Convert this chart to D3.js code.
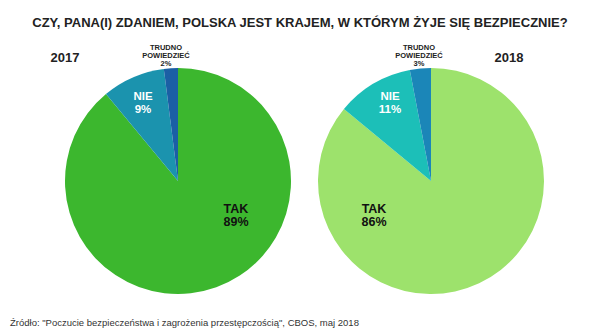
<!DOCTYPE html>
<html>
<head>
<meta charset="utf-8">
<script src="https://cdn.jsdelivr.net/npm/d3@7"></script>
<style>
  body { margin: 0; background: #fff; }
  svg { font-family: "Liberation Sans", Arial, sans-serif; }
</style>
</head>
<body>
<div id="chart"></div>
<script>
var width = 600,
    height = 330;

var categories = ["TAK", "NIE", "TRUDNO POWIEDZIEĆ"];
var years = ["2017", "2018"];
var values2017 = [89, 9, 2];
var values2018 = [86, 11, 3];
var colors2017 = ["#3cb72e", "#1b93ae", "#1b5fa5"];
var colors2018 = ["#9de26c", "#1cbfb8", "#1b86b8"];

var svg = d3.select("#chart").append("svg")
    .attr("width", width)
    .attr("height", height);

svg.append("text")
    .attr("x", 300)
    .attr("y", 27)
    .attr("text-anchor", "middle")
    .attr("font-size", 13)
    .attr("font-weight", "bold")
    .attr("fill", "#222")
    .text("CZY, PANA(I) ZDANIEM, POLSKA JEST KRAJEM, W KTÓRYM ŻYJE SIĘ BEZPIECZNIE?");

var radius = 113;
// label offsets relative to each pie centre
var pies = [
    {year: years[0], values: values2017, colors: colors2017, cx: 178, cy: 181, yearX: 65,
     tak: [58, 32], nie: [-35, -81]},
    {year: years[1], values: values2018, colors: colors2018, cx: 431, cy: 181, yearX: 509,
     tak: [-57, 32], nie: [-41, -81]}
];

var pie = d3.pie().sort(null).value(function (d) { return d; });
var arc = d3.arc().innerRadius(0).outerRadius(radius);

pies.forEach(function (p) {
    var g = svg.append("g")
        .attr("transform", "translate(" + p.cx + "," + p.cy + ")");

    var arcs = pie(p.values);

    g.selectAll("path")
        .data(arcs)
        .enter().append("path")
        .attr("d", arc)
        .attr("fill", function (d, i) { return p.colors[i]; });

    svg.append("text")
        .attr("x", p.yearX)
        .attr("y", 62)
        .attr("text-anchor", "middle")
        .attr("font-size", 13)
        .attr("font-weight", "bold")
        .attr("fill", "#222")
        .text(p.year);

    // TAK label
    var tak = g.append("text")
        .attr("text-anchor", "middle")
        .attr("font-size", 12.5)
        .attr("font-weight", "bold")
        .attr("fill", "#111");
    tak.append("tspan").attr("x", p.tak[0]).attr("y", p.tak[1]).text(categories[0]);
    tak.append("tspan").attr("x", p.tak[0]).attr("y", p.tak[1] + 13).text(p.values[0] + "%");

    // NIE label
    var nie = g.append("text")
        .attr("text-anchor", "middle")
        .attr("font-size", 11.5)
        .attr("font-weight", "bold")
        .attr("fill", "#fff");
    nie.append("tspan").attr("x", p.nie[0]).attr("y", p.nie[1]).text(categories[1]);
    nie.append("tspan").attr("x", p.nie[0]).attr("y", p.nie[1] + 12.5).text(p.values[1] + "%");

    // TRUDNO label above the pie
    var tx = -12;
    var trudno = g.append("text")
        .attr("text-anchor", "middle")
        .attr("font-size", 7.5)
        .attr("font-weight", "bold")
        .attr("fill", "#222");
    trudno.append("tspan").attr("x", tx).attr("y", -radius - 18).text("TRUDNO");
    trudno.append("tspan").attr("x", tx).attr("y", -radius - 10).text("POWIEDZIEĆ");
    trudno.append("tspan").attr("x", tx).attr("y", -radius - 2).text(p.values[2] + "%");
});

svg.append("text")
    .attr("x", 10)
    .attr("y", 326)
    .attr("font-size", 9.5)
    .attr("fill", "#333")
    .text("Źródło: \"Poczucie bezpieczeństwa i zagrożenia przestępczością\", CBOS, maj 2018");
</script>
</body>
</html>
